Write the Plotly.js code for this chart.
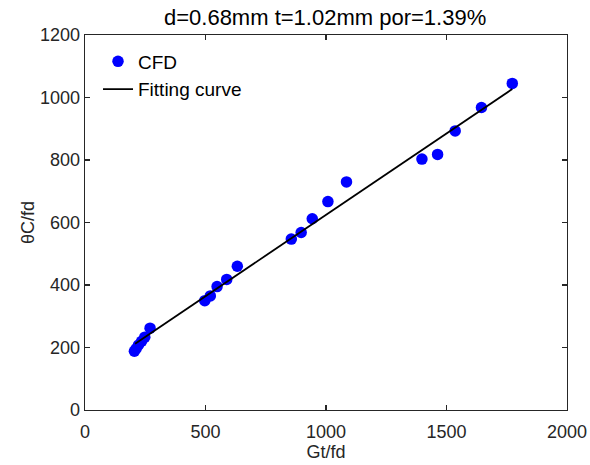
<!DOCTYPE html>
<html>
<head>
<meta charset="utf-8">
<script src="https://cdn.plot.ly/plotly-3.0.1.min.js"></script>
<style>html,body{margin:0;padding:0;background:#fff;}#chart{width:590px;height:465px;}</style>
</head>
<body>
<div id="chart"></div>
<script>
const cfdX = [205, 212, 222, 235, 248, 270, 497, 520, 548, 588, 632, 856, 897, 943, 1008, 1085, 1398, 1463, 1536, 1645, 1773];
const cfdY = [188, 196, 208, 220, 233, 262, 350, 365, 395, 418, 460, 547, 568, 612, 667, 730, 803, 818, 893, 968, 1045];
const fitX = [208, 1773];
const fitY = [212, 1027];
const xTicks = [0, 500, 1000, 1500, 2000];
const yTicks = [0, 200, 400, 600, 800, 1000, 1200];
const titleText = 'd=0.68mm t=1.02mm por=1.39%';

const axisColor = '#262626';
const fam = 'Liberation Sans, Arial, sans-serif';
const font = {family: fam, size: 18, color: axisColor};

const traces = [
  {x: cfdX, y: cfdY, type: 'scatter', mode: 'markers', name: 'CFD',
   marker: {color: '#0000ff', size: 11.5}},
  {x: fitX, y: fitY, type: 'scatter', mode: 'lines', name: 'Fitting curve',
   line: {color: '#000000', width: 1.8}}
];

const axCommon = {
  showline: true, linecolor: axisColor, linewidth: 1.3, mirror: 'allticks',
  ticks: 'inside', ticklen: 5, tickwidth: 1.2, tickcolor: axisColor,
  showgrid: false, zeroline: false, tickfont: font
};

const layout = {
  width: 590, height: 465,
  margin: {l: 85, r: 23, t: 35, b: 55},
  paper_bgcolor: '#fff', plot_bgcolor: '#fff',
  font: font,
  title: {text: titleText, font: {family: fam, size: 22, color: '#000'}, x: 0.551, xanchor: 'center', y: 0.962, yanchor: 'middle'},
  xaxis: Object.assign({}, axCommon, {range: [0, 2000], tickvals: xTicks, ticklabelstandoff: 5,
    title: {text: 'Gt/fd', font: font, standoff: 2}}),
  yaxis: Object.assign({}, axCommon, {range: [0, 1200], tickvals: yTicks,
    title: {text: 'θC/fd', font: font, standoff: 0}}),
  legend: {x: 0.027, y: 0.98, xanchor: 'left', yanchor: 'top', bgcolor: 'rgba(0,0,0,0)',
    borderwidth: 0, font: {family: fam, size: 19, color: '#000'}, tracegroupgap: 0},
  showlegend: true
};

Plotly.newPlot('chart', traces, layout, {displayModeBar: false, staticPlot: true});
</script>
</body>
</html>
